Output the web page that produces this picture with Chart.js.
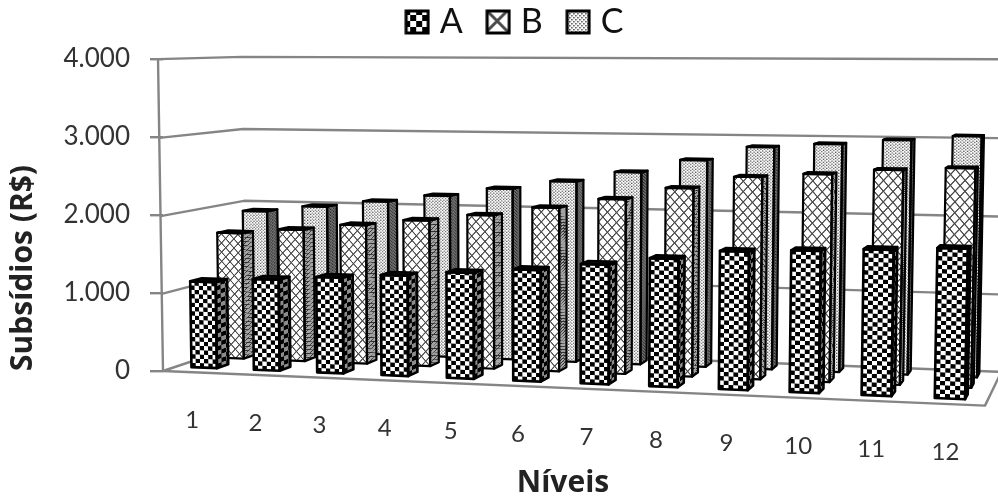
<!DOCTYPE html>
<html>
<head>
<meta charset="utf-8">
<style>
  html, body { margin: 0; background: #fff; }
  canvas { display: block; filter: blur(0.7px); }
</style>
<script src="https://cdn.jsdelivr.net/npm/chart.js@4"></script>
</head>
<body>
<canvas id="grafico" width="998" height="497"></canvas>
<script>
const niveis = ["1", "2", "3", "4", "5", "6", "7", "8", "9", "10", "11", "12"];
const serieA = [1135, 1190, 1240, 1290, 1350, 1410, 1500, 1595, 1705, 1735, 1770, 1805];
const serieB = [1690, 1755, 1835, 1915, 2000, 2115, 2240, 2395, 2550, 2600, 2665, 2700];
const serieC = [1915, 1995, 2080, 2175, 2285, 2395, 2530, 2700, 2880, 2930, 2990, 3050];
const etiquetasY = ["0", "1.000", "2.000", "3.000", "4.000"];

// Camara: origen y puntos de fuga de los tres ejes (ancho, fondo, alto)
const origen = [163, 371];
const fugaX = [-7914, 31], pesoX = -0.09237;
const fugaF = [1166, 32], pesoF = 0.0899;
const fugaY = [532, 23440], pesoY = -0.01334;

function proyectar(u, d, v) {
  const w = 1 + u * pesoX + d * pesoF + v * pesoY;
  return [
    (origen[0] + u * pesoX * fugaX[0] + d * pesoF * fugaF[0] + v * pesoY * fugaY[0]) / w,
    (origen[1] + u * pesoX * fugaX[1] + d * pesoF * fugaF[1] + v * pesoY * fugaY[1]) / w,
  ];
}

// Tramas de relleno
function crearTrama(size, dibujar) {
  const c = document.createElement("canvas");
  c.width = c.height = size;
  const g = c.getContext("2d");
  g.fillStyle = "#fff";
  g.fillRect(0, 0, size, size);
  dibujar(g);
  return { size: size, pattern: g.createPattern(c, "repeat") };
}

const tramaA = crearTrama(12, function (g) {
  g.fillStyle = "#000";
  g.fillRect(0, 0, 6, 6);
  g.fillRect(6, 6, 6, 6);
});
const tramaB = crearTrama(24, function (g) {
  g.strokeStyle = "#4a4a4a";
  g.lineWidth = 3;
  g.beginPath();
  g.moveTo(-2, -2); g.lineTo(26, 26);
  g.moveTo(26, -2); g.lineTo(-2, 26);
  g.stroke();
});
const tramaC = crearTrama(4, function (g) {
  g.fillStyle = "#444";
  g.fillRect(0, 0, 1.5, 1.5);
  g.fillRect(2, 2, 1.5, 1.5);
});

// Como se reparte cada trama sobre la cara de una barra
const rellenos = [
  { trama: tramaA, columnas: 3, alto: () => 8.6, lateral: 0.45 },
  { trama: tramaB, columnas: 3, alto: (ancho) => ancho * 0.37, lateral: 0.35 },
  { trama: tramaC, columnas: 8, alto: () => 3, lateral: 0.55 },
];
const inicioFondo = [0.115, 0.44, 0.76];
const largoFondo = 0.135;

function iconoLeyenda(trama) {
  const c = document.createElement("canvas");
  c.width = c.height = 26;
  const g = c.getContext("2d");
  g.fillStyle = trama.pattern;
  g.fillRect(1, 1, 24, 24);
  g.strokeStyle = "#000";
  g.lineWidth = 3;
  g.strokeRect(2, 2, 22, 22);
  return c;
}

function poligono(ctx, puntos) {
  ctx.beginPath();
  puntos.forEach(function (p, i) {
    if (i === 0) ctx.moveTo(p[0], p[1]);
    else ctx.lineTo(p[0], p[1]);
  });
  ctx.closePath();
}

// Rellena una cara: p0 abajo izq, p1 abajo der, p2 arriba der, p3 arriba izq
function rellenarCara(ctx, cara, relleno, columnas, sombra) {
  const p0 = cara[0], p1 = cara[1], p3 = cara[3];
  const ancho = Math.hypot(p1[0] - p0[0], p1[1] - p0[1]);
  const alto = Math.hypot(p3[0] - p0[0], p3[1] - p0[1]);
  const size = relleno.trama.size;
  const W = columnas * size;
  const H = (alto / relleno.alto(ancho)) * size;
  ctx.save();
  poligono(ctx, cara);
  ctx.clip();
  ctx.save();
  ctx.transform((p1[0] - p0[0]) / W, (p1[1] - p0[1]) / W, (p3[0] - p0[0]) / H, (p3[1] - p0[1]) / H, p0[0], p0[1]);
  ctx.fillStyle = relleno.trama.pattern;
  ctx.fillRect(-W, -H, W * 3, H * 3);
  ctx.restore();
  if (sombra) {
    ctx.fillStyle = "rgba(0,0,0," + sombra + ")";
    poligono(ctx, cara);
    ctx.fill();
  }
  ctx.restore();
}

// Barra con volumen: usa la posicion que calculan las escalas y la pasa por la camara
class Barra3D extends Chart.BarController {
  draw() {
    const chart = this.chart;
    const ctx = chart.ctx;
    const xs = chart.scales.x;
    const ys = chart.scales.y;
    const idx = this.index;
    const relleno = rellenos[idx];
    const d0 = inicioFondo[idx];
    const d1 = d0 + largoFondo;
    const altoEje = ys.bottom - ys.top;

    this._cachedMeta.data.forEach(function (barra) {
      const u0 = (barra.x - barra.width / 2 - xs.left) / xs.width;
      const u1 = (barra.x + barra.width / 2 - xs.left) / xs.width;
      const v0 = (ys.bottom - barra.base) / altoEje;
      const v1 = (ys.bottom - barra.y) / altoEje;

      const frente = [proyectar(u0, d0, v0), proyectar(u1, d0, v0), proyectar(u1, d0, v1), proyectar(u0, d0, v1)];
      const lado = [proyectar(u1, d0, v0), proyectar(u1, d1, v0), proyectar(u1, d1, v1), proyectar(u1, d0, v1)];
      const tapa = [proyectar(u0, d0, v1), proyectar(u1, d0, v1), proyectar(u1, d1, v1), proyectar(u0, d1, v1)];

      rellenarCara(ctx, lado, relleno, relleno.columnas * 0.4, relleno.lateral);
      ctx.fillStyle = "#111";
      poligono(ctx, tapa);
      ctx.fill();
      rellenarCara(ctx, frente, relleno, relleno.columnas, 0);

      ctx.strokeStyle = "#000";
      ctx.lineJoin = "round";
      ctx.lineWidth = idx === 0 ? 2.6 : 2.2;
      [lado, tapa, frente].forEach(function (cara) {
        poligono(ctx, cara);
        ctx.stroke();
      });
    });
  }
}
Barra3D.id = "barra3d";
Barra3D.defaults = Chart.BarController.defaults;
Chart.register(Barra3D);

function linea(ctx, puntos) {
  ctx.beginPath();
  puntos.forEach(function (p, i) {
    if (i === 0) ctx.moveTo(p[0], p[1]);
    else ctx.lineTo(p[0], p[1]);
  });
  ctx.stroke();
}

const escena = {
  id: "escena",
  // La leyenda va a su sitio, sin ocupar espacio del area
  afterLayout(chart) {
    const l = chart.legend;
    const dx = 36;
    l.left += dx;
    l.right += dx;
    l.top = -25;
    l.bottom = l.top + l.height;
  },
  beforeDatasetsDraw(chart) {
    const ctx = chart.ctx;
    const ys = chart.scales.y;
    const xs = chart.scales.x;
    const altoEje = ys.bottom - ys.top;
    ctx.save();
    ctx.strokeStyle = "#858585";
    ctx.lineWidth = 2.4;
    ys.ticks.forEach(function (t) {
      const v = (ys.bottom - ys.getPixelForValue(t.value)) / altoEje;
      linea(ctx, [proyectar(0, 0, v), proyectar(0, 1, v), proyectar(1, 1, v)]);
    });
    linea(ctx, [proyectar(0, 0, 1), proyectar(0, 0, 0), proyectar(1, 0, 0), proyectar(1, 1, 0)]);

    // Etiquetas de categoria siguiendo el borde del suelo
    ctx.fillStyle = "#333";
    ctx.font = "24px Lato";
    ctx.textAlign = "center";
    ctx.textBaseline = "middle";
    niveis.forEach(function (n, i) {
      const u = (xs.getPixelForValue(i) - xs.left) / xs.width;
      const p = proyectar(u, 0, 0);
      ctx.fillText(n, p[0] - 2, p[1] + 48);
    });
    ctx.restore();
  },
};

const series = [
  { label: "A", data: serieA },
  { label: "B", data: serieB },
  { label: "C", data: serieC },
];

const grafico = new Chart(document.getElementById("grafico"), {
  type: "barra3d",
  data: {
    labels: niveis,
    datasets: series.map(function (s, i) {
      return {
        label: s.label,
        data: s.data,
        backgroundColor: rellenos[i].trama.pattern,
        grouped: false,
        barPercentage: 0.41,
        categoryPercentage: 1,
        clip: false,
      };
    }),
  },
  plugins: [escena],
  options: {
    responsive: false,
    animation: false,
    layout: { padding: { left: 0, right: 35, top: 0, bottom: 0 } },
    plugins: {
      tooltip: { enabled: false },
      legend: {
        position: "top",
        labels: {
          color: "#222",
          font: { family: "Lato", size: 34 },
          padding: 30,
          usePointStyle: true,
          pointStyleWidth: 11,
          boxHeight: 26,
          generateLabels: function () {
            return series.map(function (s, i) {
              return { text: s.label, pointStyle: iconoLeyenda(rellenos[i].trama), datasetIndex: i, lineWidth: 0 };
            });
          },
        },
      },
    },
    scales: {
      x: {
        offset: true,
        grid: { display: false },
        border: { display: false },
        ticks: { display: false },
        title: {
          display: true,
          text: "Níveis",
          color: "#222",
          font: { family: "Open Sans", size: 30, weight: "bold" },
          padding: { top: 0, bottom: -4 },
        },
        afterFit: function (s) { s.height = 126; },
      },
      y: {
        min: 0,
        max: 4000,
        grid: { drawOnChartArea: false, color: "#858585", lineWidth: 2.4, tickLength: 13 },
        border: { display: false },
        ticks: {
          stepSize: 1000,
          padding: 20,
          color: "#333",
          font: { family: "Lato", size: 26 },
          callback: function (v, i) { return etiquetasY[i]; },
        },
        title: {
          display: true,
          text: "Subsídios (R$)",
          align: "start",
          color: "#222",
          font: { family: "Open Sans", size: 30, weight: "bold" },
          padding: { top: 5, bottom: 0 },
        },
        afterFit: function (s) { s.width = 163; },
      },
    },
  },
});

// Ajusta el alto de la leyenda para que el eje empiece donde toca
grafico.options.layout.padding.top += 59 - grafico.chartArea.top;
grafico.update("none");
</script>
</body>
</html>
